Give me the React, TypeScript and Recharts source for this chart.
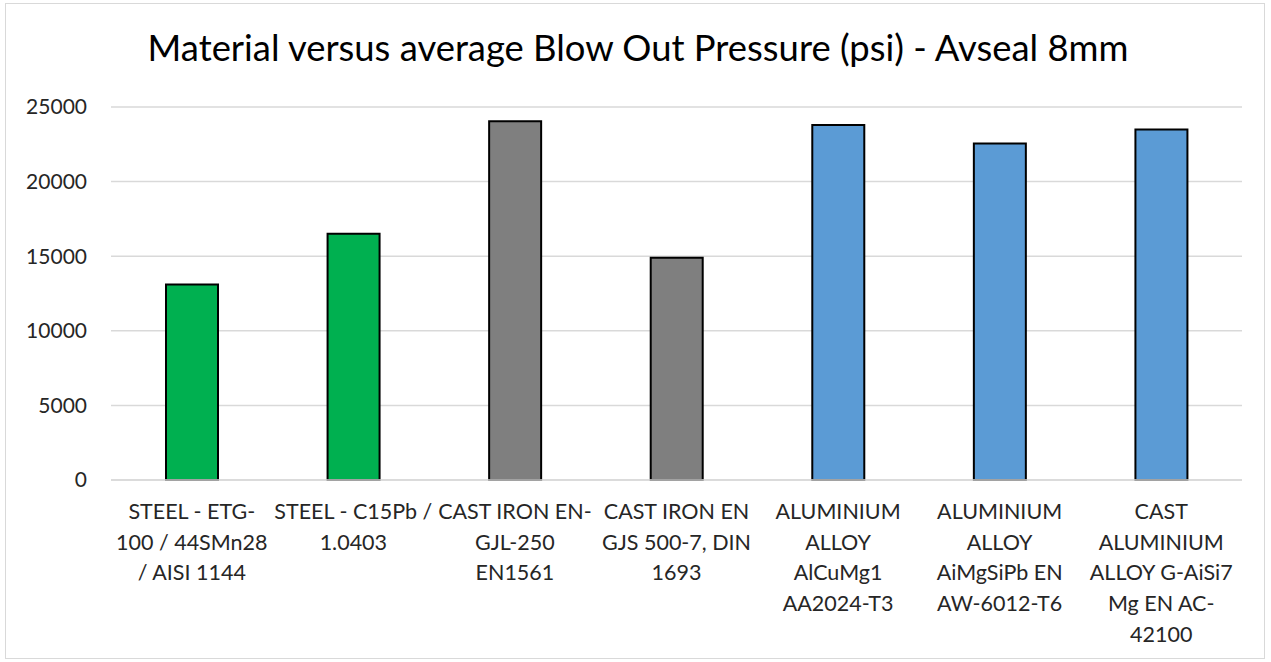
import React from "react"
import { BarChart, Bar, XAxis, YAxis, CartesianGrid, Cell } from "recharts"

// Material labels, split the same way the chart wraps them
const materialLines: string[][] = [
  ["STEEL - ETG-", "100 / 44SMn28", "/ AISI 1144"],
  ["STEEL - C15Pb /", "1.0403"],
  ["CAST IRON EN-", "GJL-250", "EN1561"],
  ["CAST IRON EN", "GJS 500-7, DIN", "1693"],
  ["ALUMINIUM", "ALLOY", "AlCuMg1", "AA2024-T3"],
  ["ALUMINIUM", "ALLOY", "AiMgSiPb EN", "AW-6012-T6"],
  ["CAST", "ALUMINIUM", "ALLOY G-AiSi7", "Mg EN AC-", "42100"],
]
const materialGroup = ["steel", "steel", "iron", "iron", "aluminium", "aluminium", "aluminium"]
const blowOutPressure = [13100, 16500, 24050, 14900, 23800, 22550, 23500]
const yTicks = [0, 5000, 10000, 15000, 20000, 25000]

const GROUP_COLORS: Record<string, string> = {
  steel: "#00B050",
  iron: "#7F7F7F",
  aluminium: "#5B9BD5",
}

const FONT = "Lato, 'Open Sans', sans-serif"

const data = materialLines.map((lines, i) => ({
  name: lines.join(" "),
  idx: i,
  pressure: blowOutPressure[i],
}))

const MaterialTick = ({ x, y, index }: any) => {
  const lines = materialLines[index] || []
  return (
    <text x={x} y={y} textAnchor="middle" fill="#262626" fontSize={21.5} fontFamily={FONT}>
      {lines.map((line, i) => (
        <tspan key={i} x={x} dy={i === 0 ? 31 : 30.7}>
          {line}
        </tspan>
      ))}
    </text>
  )
}

const App = () => {
  return (
    <div style={{ position: "absolute", left: 0, top: 0, width: 1271, height: 662, background: "#fff" }}>
      <div
        style={{
          position: "absolute",
          left: 5,
          top: 3,
          width: 1260,
          height: 656,
          border: "1px solid #d9d9d9",
          boxSizing: "border-box",
        }}
      />
      <div
        style={{
          position: "absolute",
          left: 0,
          top: 25,
          width: 1276,
          textAlign: "center",
          fontFamily: FONT,
          fontSize: 36.4,
          color: "#000",
          whiteSpace: "nowrap",
        }}
      >
        Material versus average Blow Out Pressure (psi) - Avseal 8mm
      </div>
      <div style={{ position: "absolute", left: 0, top: 0 }}>
        <BarChart width={1271} height={662} data={data} margin={{ top: 107, right: 29, bottom: 0, left: 0 }}>
          <CartesianGrid vertical={false} stroke="#d9d9d9" strokeWidth={1.5} />
          <XAxis
            dataKey="name"
            axisLine={{ stroke: "#d9d9d9", strokeWidth: 1.5 }}
            tickLine={false}
            height={182}
            interval={0}
            tick={<MaterialTick />}
          />
          <YAxis
            domain={[0, 25000]}
            ticks={yTicks}
            width={111}
            axisLine={false}
            tickLine={false}
            tickSize={0}
            tickMargin={24}
            tick={{ fill: "#262626", fontSize: 21, fontFamily: FONT }}
          />
          <Bar dataKey="pressure" barSize={52} stroke="#000" strokeWidth={2} isAnimationActive={false}>
            {data.map((d, i) => (
              <Cell key={`cell-${i}`} fill={GROUP_COLORS[materialGroup[i]]} />
            ))}
          </Bar>
        </BarChart>
      </div>
    </div>
  )
}

export default App
